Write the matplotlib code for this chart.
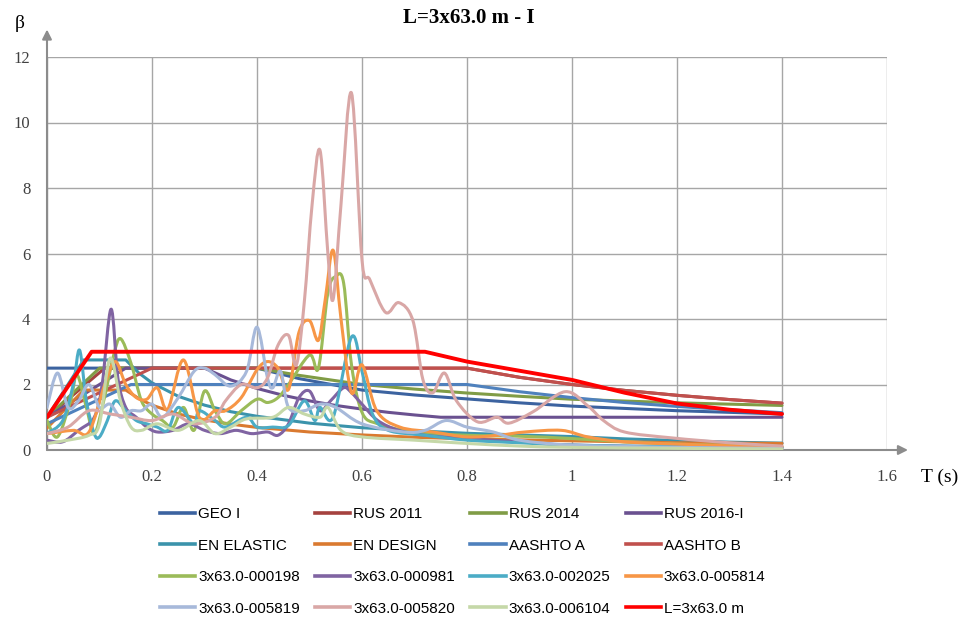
import numpy as np
import matplotlib
matplotlib.use("Agg")
import matplotlib.pyplot as plt
from matplotlib.path import Path
from matplotlib.patches import PathPatch
from matplotlib.lines import Line2D

# ---------------- code spectra ----------------
geo_t = [0, 0.1, 0.2, 0.3, 0.4, 0.48, 0.6, 0.7, 0.8, 0.9, 1.0, 1.2, 1.4]
geo_b = [2.5, 2.5, 2.5, 2.5, 2.5, 2.18, 1.83, 1.68, 1.56, 1.44, 1.34, 1.2, 1.1]

rus11_t = [0, 0.11, 0.2, 0.4, 0.6, 0.8, 0.9, 1.0, 1.1, 1.2, 1.3, 1.4]
rus11_b = [1.0, 2.5, 2.5, 2.5, 2.5, 2.5, 2.22, 2.0, 1.82, 1.67, 1.54, 1.43]

rus14_t = [0, 0.1, 0.2, 0.3, 0.4, 0.48, 0.6, 0.7, 0.8, 0.9, 1.0, 1.2, 1.4]
rus14_b = [1.0, 2.5, 2.5, 2.5, 2.5, 2.28, 2.0, 1.86, 1.74, 1.64, 1.55, 1.44, 1.36]

rus16_t = [0, 0.15, 0.22, 0.3, 0.35, 0.4, 0.45, 0.5, 0.55, 0.6, 0.65, 0.7, 0.75, 0.9, 1.1, 1.4]
rus16_b = [1.0, 2.5, 2.5, 2.5, 2.14, 1.88, 1.67, 1.5, 1.36, 1.25, 1.15, 1.07, 1.0, 1.0, 1.0, 1.0]

enel_t = [0, 0.07, 0.15, 0.175, 0.2, 0.25, 0.3, 0.35, 0.4, 0.5, 0.6, 0.7, 0.8, 0.9, 1.0,
          1.1, 1.2, 1.3, 1.4]
enel_b = [1.0, 2.75, 2.75, 2.35, 2.05, 1.64, 1.37, 1.17, 1.03, 0.82, 0.68, 0.59, 0.51, 0.46,
          0.41, 0.34, 0.29, 0.24, 0.21]

ende_t = [0, 0.07, 0.15, 0.175, 0.2, 0.25, 0.3, 0.35, 0.4, 0.5, 0.6, 0.7, 0.8, 0.9, 1.0,
          1.2, 1.4]
ende_b = [0.67, 1.83, 1.83, 1.57, 1.37, 1.1, 0.92, 0.79, 0.69, 0.55, 0.46, 0.39, 0.34, 0.31,
          0.28, 0.22, 0.2]

aashA_t = [0, 0.16, 0.3, 0.5, 0.8, 0.9, 1.0, 1.1, 1.2, 1.3, 1.4]
aashA_b = [0.8, 2.0, 2.0, 2.0, 2.0, 1.78, 1.6, 1.45, 1.33, 1.23, 1.14]

aashB_t = [0, 0.2, 0.4, 0.6, 0.8, 0.9, 1.0, 1.1, 1.2, 1.3, 1.4]
aashB_b = [1.0, 2.5, 2.5, 2.5, 2.5, 2.22, 2.0, 1.82, 1.67, 1.54, 1.43]

# ---------------- accelerogram response spectra ----------------
r198_t = [0, 0.02, 0.045, 0.057, 0.075, 0.09, 0.108, 0.127, 0.14, 0.16, 0.18, 0.2, 0.22,
          0.24, 0.26, 0.28, 0.3, 0.32, 0.34, 0.37, 0.4, 0.42, 0.44, 0.46, 0.5, 0.517,
          0.535, 0.55, 0.565, 0.58, 0.6, 0.63, 0.7, 0.8, 0.9, 1.0, 1.1, 1.2, 1.3, 1.4]
r198_b = [0.9, 0.4, 1.5, 2.3, 1.3, 0.5, 1.5, 2.9, 3.4, 2.65, 1.5, 1.1, 0.9,
          0.7, 1.3, 0.6, 1.8, 1.2, 0.8, 1.2, 1.55, 1.45, 1.6, 2.0, 2.9, 2.5,
          4.8, 5.3, 5.1, 2.6, 1.15, 0.8, 0.55, 0.45, 0.42, 0.35, 0.25, 0.18, 0.14, 0.1]

r981_t = [0, 0.03, 0.06, 0.09, 0.105, 0.122, 0.135, 0.15, 0.17, 0.19, 0.21, 0.24, 0.27,
          0.3, 0.33, 0.36, 0.39, 0.42, 0.44, 0.46, 0.48, 0.5, 0.52, 0.54, 0.565, 0.58,
          0.6, 0.63, 0.67, 0.72, 0.8, 0.9, 1.0, 1.2, 1.4]
r981_b = [0.3, 0.25, 0.6, 1.0, 2.0, 4.3, 2.2, 1.3, 1.0, 0.7, 0.55, 0.6, 0.8,
          0.6, 0.5, 0.6, 0.5, 0.55, 0.45, 0.8, 1.6, 1.8, 1.2, 1.5, 1.9, 1.75,
          1.4, 0.9, 0.6, 0.45, 0.35, 0.25, 0.15, 0.1, 0.06]

r2025_t = [0, 0.03, 0.05, 0.062, 0.075, 0.09, 0.1, 0.115, 0.13, 0.15, 0.17, 0.19, 0.21,
           0.23, 0.25, 0.28, 0.29, 0.32, 0.34, 0.38, 0.4, 0.43, 0.46, 0.49, 0.51, 0.52,
           0.545, 0.58, 0.6, 0.62, 0.65, 0.72, 0.8, 0.9, 1.0, 1.2, 1.4]
r2025_b = [0.5, 0.9, 2.0, 3.05, 1.5, 0.5, 0.4, 0.9, 1.5, 1.2, 0.9, 0.8, 0.7,
           0.6, 1.3, 0.8, 1.2, 0.9, 0.7, 1.0, 0.7, 0.7, 0.75, 1.5, 0.9, 1.3,
           1.0, 3.45, 2.4, 1.1, 0.6, 0.45, 0.3, 0.22, 0.15, 0.1, 0.08]

r5814_t = [0, 0.05, 0.08, 0.11, 0.13, 0.15, 0.17, 0.19, 0.21, 0.23, 0.26, 0.29, 0.32,
           0.34, 0.37, 0.4, 0.42, 0.44, 0.46, 0.48, 0.5, 0.517, 0.53, 0.545, 0.56,
           0.58, 0.6, 0.628, 0.672, 0.736, 0.8, 0.86, 0.91, 0.98, 1.03, 1.1, 1.2, 1.3, 1.4]
r5814_b = [0.5, 0.6, 0.55, 2.0, 2.7, 2.0, 1.6, 1.55, 1.9, 1.25, 2.75, 1.0, 1.2,
           1.2, 1.6, 2.45, 2.7, 2.5, 1.85, 3.6, 3.95, 3.35, 4.6, 6.1, 4.0,
           1.75, 2.6, 1.2, 0.7, 0.55, 0.4, 0.45, 0.55, 0.6, 0.4, 0.25, 0.18, 0.13, 0.1]

r5819_t = [0, 0.02, 0.04, 0.06, 0.08, 0.1, 0.12, 0.14, 0.16, 0.18, 0.2, 0.22, 0.25,
           0.28, 0.3, 0.32, 0.35, 0.38, 0.4, 0.42, 0.43, 0.445, 0.46, 0.49, 0.52, 0.55,
           0.6, 0.68, 0.72, 0.76, 0.8, 0.85, 0.9, 1.0, 1.2, 1.4]
r5819_b = [1.3, 2.35, 1.3, 1.5, 2.0, 1.3, 1.4, 1.0, 1.2, 1.2, 1.4, 1.0, 1.6,
           2.4, 2.5, 2.3, 1.95, 2.4, 3.75, 2.2, 1.9, 2.4, 1.3, 1.2, 1.4, 1.3,
           0.8, 0.55, 0.6, 0.9, 0.7, 0.55, 0.3, 0.15, 0.08, 0.05]

r5820_t = [0, 0.04, 0.08, 0.12, 0.16, 0.2, 0.24, 0.28, 0.32, 0.34, 0.37, 0.4, 0.42,
           0.44, 0.46, 0.475, 0.49, 0.505, 0.52, 0.535, 0.545, 0.56, 0.58, 0.6, 0.615,
           0.645, 0.67, 0.697, 0.716, 0.735, 0.757, 0.78, 0.82, 0.857, 0.88, 0.926,
           0.987, 1.03, 1.06, 1.1, 1.19, 1.3, 1.4]
r5820_b = [0.5, 0.7, 1.2, 1.1, 1.0, 0.9, 1.1, 0.8, 1.0, 1.5, 2.0, 1.9, 2.2,
           3.2, 3.5, 2.6, 4.5, 7.5, 9.15, 6.0, 4.6, 7.5, 10.9, 5.8, 5.2,
           4.2, 4.5, 3.95, 2.15, 1.75, 2.35, 1.5, 0.86, 1.0, 0.82, 1.17,
           1.78, 1.35, 0.9, 0.55, 0.37, 0.22, 0.12]

r6104_t = [0, 0.04, 0.08, 0.1, 0.12, 0.14, 0.16, 0.18, 0.21, 0.25, 0.29, 0.32, 0.35,
           0.38, 0.43, 0.46, 0.49, 0.52, 0.535, 0.56, 0.6, 0.7, 0.8, 0.9, 1.0, 1.2, 1.4]
r6104_b = [0.2, 0.3, 0.45, 0.8, 2.8, 1.5, 0.7, 0.6, 0.8, 0.6, 0.9, 0.5, 0.7,
           0.95, 1.0, 1.3, 1.1, 1.0, 1.3, 0.6, 0.4, 0.3, 0.2, 0.12, 0.08, 0.05, 0.03]

# ---------------- bridge spectrum L=3x63.0 m ----------------
bridge_t = [0, 0.085, 0.2, 0.4, 0.6, 0.72, 0.8, 0.9, 1.0, 1.1, 1.2, 1.3, 1.4]
bridge_b = [1.0, 3.0, 3.0, 3.0, 3.0, 3.0, 2.7, 2.42, 2.14, 1.75, 1.42, 1.23, 1.1]

labels = ["GEO I", "RUS 2011", "RUS 2014", "RUS 2016-I",
          "EN ELASTIC", "EN DESIGN", "AASHTO A", "AASHTO B",
          "3x63.0-000198", "3x63.0-000981", "3x63.0-002025", "3x63.0-005814",
          "3x63.0-005819", "3x63.0-005820", "3x63.0-006104", "L=3x63.0 m"]
series = [(geo_t, geo_b), (rus11_t, rus11_b), (rus14_t, rus14_b), (rus16_t, rus16_b),
          (enel_t, enel_b), (ende_t, ende_b), (aashA_t, aashA_b), (aashB_t, aashB_b),
          (r198_t, r198_b), (r981_t, r981_b), (r2025_t, r2025_b), (r5814_t, r5814_b),
          (r5819_t, r5819_b), (r5820_t, r5820_b), (r6104_t, r6104_b), (bridge_t, bridge_b)]
colors = ["#3C63A0", "#A5423F", "#809C46", "#6A5190",
          "#3B93AB", "#DA7A30", "#4F81BD", "#C0504D",
          "#9BBB59", "#8064A2", "#4BACC6", "#F79646",
          "#A7B9DA", "#D9A7A6", "#C5D8A8", "#FF0000"]
widths = [2.2] * 15 + [2.8]
smoothed = [False] * 8 + [True] * 7 + [False]


def smooth_path(x, y):
    """Bezier path through the points (spreadsheet-style smoothed line)."""
    p = np.column_stack([np.asarray(x, float), np.asarray(y, float)])
    verts = [p[0]]
    codes = [Path.MOVETO]
    n = len(p)
    for i in range(n - 1):
        p0 = p[i - 1] if i > 0 else p[i]
        p1, p2 = p[i], p[i + 1]
        p3 = p[i + 2] if i + 2 < n else p[i + 1]
        verts += [p1 + (p2 - p0) / 6.0, p2 - (p3 - p1) / 6.0, p2]
        codes += [Path.CURVE4] * 3
    return Path(verts, codes)


plt.rcParams["font.family"] = ["Liberation Serif", "DejaVu Serif"]
fig = plt.figure(figsize=(9.7, 6.2), dpi=100)
W, H = 970, 620
ax = fig.add_axes([47 / W, 1 - 450 / H, (887 - 47) / W, (450 - 57) / H])
ax.set_xlim(0, 1.6)
ax.set_ylim(0, 12)
ax.set_xticks(np.arange(0, 1.61, 0.2))
ax.set_yticks(np.arange(0, 12.1, 2))
ax.set_xticklabels(["0", "0.2", "0.4", "0.6", "0.8", "1", "1.2", "1.4", "1.6"])
ax.set_yticklabels([str(v) for v in range(0, 13, 2)])
ax.tick_params(length=0, labelsize=12, colors="#404040")
ax.tick_params(axis="x", pad=14)
ax.tick_params(axis="y", pad=12)
ax.grid(True, color="#A6A6A6", lw=1.0)
ax.set_axisbelow(True)
for s in ax.spines.values():
    s.set_visible(False)

axis_col = "#8C8C8C"
ax.annotate("", xy=(1.025, 0), xytext=(0, 0), xycoords="axes fraction",
            arrowprops=dict(arrowstyle="-|>", color=axis_col, lw=1.5, mutation_scale=14,
                            shrinkA=0, shrinkB=0), annotation_clip=False)
ax.annotate("", xy=(0, 1.07), xytext=(0, 0), xycoords="axes fraction",
            arrowprops=dict(arrowstyle="-|>", color=axis_col, lw=1.5, mutation_scale=14,
                            shrinkA=0, shrinkB=0), annotation_clip=False)

handles = []
for (t, b), c, lw, lab, sm in zip(series, colors, widths, labels, smoothed):
    if sm:
        patch = PathPatch(smooth_path(t, b), fill=False, edgecolor=c, lw=lw,
                          capstyle="round", joinstyle="round", zorder=3)
        ax.add_patch(patch)
    else:
        ax.plot(t, b, color=c, lw=lw, solid_joinstyle="round",
                solid_capstyle="round", zorder=3)
    handles.append(Line2D([], [], color=c, lw=2.6, label=lab))

fig.text(469 / W, 1 - 18 / H, "L=3x63.0 m - I", ha="center", va="center",
         fontsize=15, fontweight="bold")
fig.text(20 / W, 1 - 24 / H, "β", ha="center", va="center", fontsize=14)
fig.text(940 / W, 1 - 477 / H, "T (s)", ha="center", va="center", fontsize=14)

# legend filled row by row, four entries per row
ncol = 4
nrow = len(handles) // ncol
ordered = [handles[r * ncol + c] for c in range(ncol) for r in range(nrow)]
fig.legend(handles=ordered, ncol=ncol, loc="upper left",
           bbox_to_anchor=(160 / W, 1 - 507 / H), frameon=False,
           prop={"family": "Liberation Sans", "size": 11},
           handlelength=2.3, handletextpad=0.2, columnspacing=1.0,
           labelspacing=1.15, borderaxespad=0, borderpad=0)

fig.savefig("out.png", dpi=100)
